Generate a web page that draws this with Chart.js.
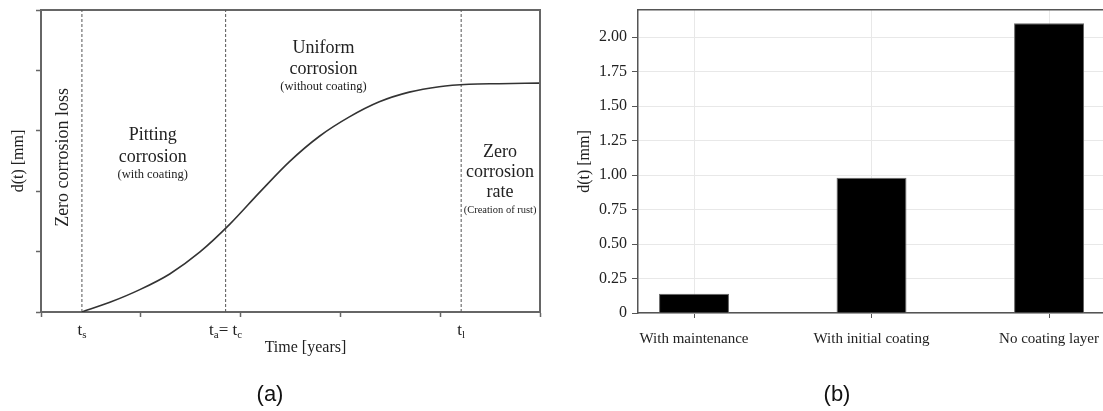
<!DOCTYPE html>
<html><head><meta charset="utf-8">
<script src="https://cdn.jsdelivr.net/npm/chart.js@4.4.1/dist/chart.umd.min.js"></script>
<style>
html,body{margin:0;padding:0;background:#fff;overflow:hidden;width:1103px;height:411px;}
#wa{position:absolute;left:0;top:0;width:560px;height:411px;}
#wb{position:absolute;left:560px;top:0;width:543px;height:411px;}
.cap{position:absolute;top:381px;font:22px 'Liberation Sans',Arial,sans-serif;color:#111;transform:translateX(-50%);line-height:26px;}
</style></head><body>
<div id="wa"><canvas id="ca" width="560" height="411"></canvas></div>
<div id="wb"><canvas id="cb" width="543" height="411"></canvas></div>
<div class="cap" style="left:270px">(a)</div>
<div class="cap" style="left:837px">(b)</div>
<script>
// ---------- Panel (a): corrosion depth vs time (schematic) ----------
const curveTime = [0.41, 0.69, 0.99, 1.29, 1.59, 1.89, 2.19, 2.49, 2.79, 3.09, 3.39, 3.69, 3.99, 4.29, 4.59, 4.99];
const curveLoss = [0.00, 0.16, 0.37, 0.63, 0.99, 1.45, 1.98, 2.49, 2.91, 3.23, 3.48, 3.64, 3.73, 3.77, 3.78, 3.79];
const phaseTimes = [0.41, 1.85, 4.21];
// segments: even index = normal text, odd index = subscript
const phaseLabels = [['t', 's'], ['t', 'a', '= t', 'c'], ['t', 'l']];
const axisTitleA = 'd(t) [mm]';
const timeTitle = 'Time [years]';

// ---------- Panel (b): thickness loss by scenario ----------
const categories = ['With maintenance', 'With initial coating', 'No coating layer'];
const thicknessLoss = [0.14, 0.98, 2.10];
const axisTitleB = 'd(t) [mm]';

const SERIF = "'Liberation Serif','Times New Roman',serif";
const INK = '#222';
const AXIS = '#666';

// Region annotations for panel (a), anchored in data coordinates
const regionNotes = [
  {x: 0.27, y: 2.56, rotate: true, lines: [['Zero corrosion loss', 18, 0]]},
  {x: 1.12, y: 2.85, lines: [['Pitting', 18, 0], ['corrosion', 18, 22], ['(with coating)', 12.5, 16]]},
  {x: 2.83, y: 4.29, lines: [['Uniform', 18, 0], ['corrosion', 18, 21], ['(without coating)', 12.5, 16]]},
  {x: 4.60, y: 2.57, lines: [['Zero', 18, 0], ['corrosion', 18, 20], ['rate', 18, 20], ['(Creation of rust)', 10.5, 16]]}
];

const notesPlugin = {
  id: 'notes',
  afterDraw(chart) {
    const ctx = chart.ctx, xs = chart.scales.x, ys = chart.scales.y;
    ctx.save();
    ctx.fillStyle = INK;
    regionNotes.forEach(n => {
      const px = xs.getPixelForValue(n.x), py = ys.getPixelForValue(n.y);
      ctx.textAlign = 'center';
      ctx.textBaseline = 'alphabetic';
      if (n.rotate) {
        ctx.save();
        ctx.translate(px, py);
        ctx.rotate(-Math.PI / 2);
        ctx.font = n.lines[0][1] + 'px ' + SERIF;
        ctx.fillText(n.lines[0][0], 0, 0);
        ctx.restore();
      } else {
        let yy = py;
        n.lines.forEach(l => {
          yy += l[2];
          ctx.font = l[1] + 'px ' + SERIF;
          ctx.fillText(l[0], px, yy);
        });
      }
    });
    // phase time labels under the axis
    const base = ys.bottom + 23;
    phaseTimes.forEach((t, i) => {
      const segs = phaseLabels[i];
      const fonts = segs.map((s, k) => (k % 2 === 0 ? 17 : 11) + 'px ' + SERIF);
      const widths = segs.map((s, k) => { ctx.font = fonts[k]; return ctx.measureText(s).width; });
      const total = widths.reduce((a, b) => a + b, 0);
      let cx = xs.getPixelForValue(t) - total / 2;
      ctx.textAlign = 'left';
      segs.forEach((s, k) => {
        ctx.font = fonts[k];
        ctx.fillText(s, cx, base + (k % 2 === 0 ? 0 : 3));
        cx += widths[k];
      });
    });
    ctx.textAlign = 'center';
    ctx.font = '16px ' + SERIF;
    ctx.fillText(timeTitle, xs.getPixelForValue(2.65), ys.bottom + 40);
    ctx.restore();
  }
};

const frameAxis = (pos, color, width) => ({
  type: 'linear', position: pos, min: 0, max: 1, display: true,
  ticks: {display: false},
  grid: {display: false, drawTicks: false, drawOnChartArea: false},
  border: {display: true, color: color, width: width},
  afterFit: s => { if (pos === 'top') s.height = 0; else s.width = 0; s.paddingTop = s.paddingBottom = s.paddingLeft = s.paddingRight = 0; }
});

new Chart(document.getElementById('ca'), {
  type: 'line',
  data: {
    datasets: [
      {
        data: curveTime.map((t, i) => ({x: t, y: curveLoss[i]})),
        borderColor: '#333', borderWidth: 1.6, pointRadius: 0,
        cubicInterpolationMode: 'monotone', fill: false
      },
      ...phaseTimes.map(t => ({
        data: [{x: t, y: 0}, {x: t, y: 5}],
        borderColor: '#555', borderWidth: 1, borderDash: [3, 2], pointRadius: 0, fill: false
      }))
    ]
  },
  plugins: [notesPlugin],
  options: {
    responsive: false, animation: false,
    layout: {padding: {left: 0, top: 10, right: 20, bottom: 0}},
    plugins: {legend: {display: false}, tooltip: {enabled: false}},
    scales: {
      x: {
        type: 'linear', position: 'bottom', min: 0, max: 5,
        ticks: {display: false, stepSize: 1},
        grid: {display: true, drawOnChartArea: false, drawTicks: true, tickLength: 5, tickColor: AXIS, tickWidth: 1.5},
        border: {display: true, color: AXIS, width: 2},
        afterFit: s => { s.height = 99; s.paddingLeft = s.paddingRight = 0; }
      },
      y: {
        type: 'linear', position: 'left', min: 0, max: 5,
        ticks: {display: false, stepSize: 1},
        grid: {display: true, drawOnChartArea: false, drawTicks: true, tickLength: 5, tickColor: AXIS, tickWidth: 1.5},
        border: {display: true, color: AXIS, width: 2},
        title: {display: true, text: axisTitleA, color: INK, font: {family: SERIF, size: 16}, padding: {top: 9, bottom: 0}},
        afterFit: s => { s.width = 41; s.paddingTop = s.paddingBottom = 0; }
      },
      xTop: frameAxis('top', AXIS, 2),
      yRight: frameAxis('right', AXIS, 2)
    }
  }
});

// ---------- Panel (b) chart ----------
const GRID = '#e8e8e8';
const AX2 = '#555';
new Chart(document.getElementById('cb'), {
  type: 'bar',
  data: {
    datasets: [{
      data: categories.map((c, i) => ({x: i, y: thicknessLoss[i]})),
      backgroundColor: '#000', borderColor: '#666', borderWidth: 1,
      categoryPercentage: 1, barPercentage: 0.394
    }]
  },
  options: {
    responsive: false, animation: false,
    layout: {padding: {left: 0, top: 10, right: 0, bottom: 0}},
    plugins: {legend: {display: false}, tooltip: {enabled: false}},
    scales: {
      x: {
        type: 'linear', position: 'bottom', min: -0.3155, max: 2.304, offset: false,
        ticks: {stepSize: 1, includeBounds: false, color: INK, font: {family: SERIF, size: 15}, padding: 12,
                maxRotation: 0, minRotation: 0, autoSkip: false, callback: v => categories[v] ?? ''},
        afterBuildTicks: s => { s.ticks = s.ticks.filter(t => Number.isInteger(t.value) && t.value >= 0 && t.value < categories.length); },
        grid: {display: true, offset: false, color: GRID, drawTicks: true, tickLength: 5, tickColor: AX2},
        border: {display: true, color: AX2, width: 1.5},
        afterFit: s => { s.height = 98; s.paddingLeft = s.paddingRight = 0; }
      },
      y: {
        type: 'linear', position: 'left', min: 0, max: 2.196,
        ticks: {stepSize: 0.25, includeBounds: false, color: INK, font: {family: SERIF, size: 16}, padding: 5, autoSkip: false,
                callback: v => v === 0 ? '0' : v.toFixed(2)},
        afterBuildTicks: s => { s.ticks = s.ticks.filter(t => Math.abs(t.value / 0.25 - Math.round(t.value / 0.25)) < 1e-6); },
        grid: {display: true, color: GRID, drawTicks: true, tickLength: 6, tickColor: AX2},
        border: {display: true, color: AX2, width: 1.5},
        title: {display: true, text: axisTitleB, color: INK, font: {family: SERIF, size: 16}, padding: {top: 15, bottom: 0}},
        afterFit: s => { s.width = 78; s.paddingTop = s.paddingBottom = 0; }
      },
      xTop: frameAxis('top', AX2, 1.5)
    }
  }
});
</script>
</body></html>
